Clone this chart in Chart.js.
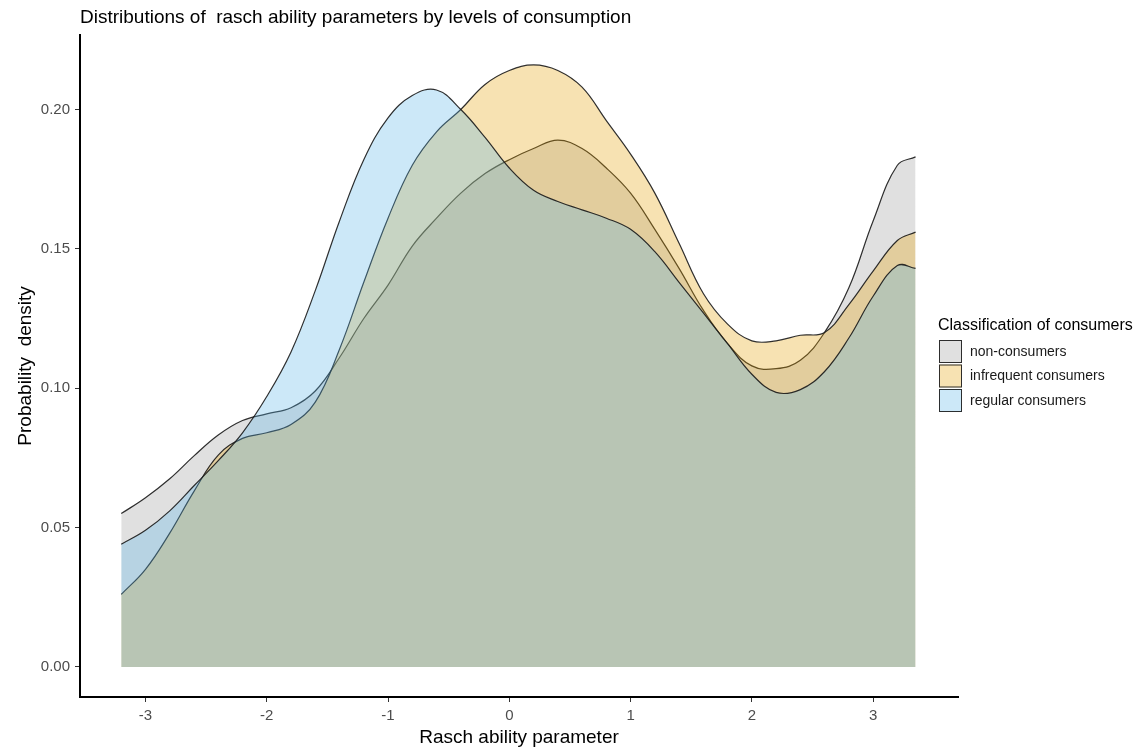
<!DOCTYPE html>
<html>
<head>
<meta charset="utf-8">
<title>Distributions of rasch ability parameters</title>
<script src="https://cdn.jsdelivr.net/npm/chart.js@4.4.1/dist/chart.umd.min.js"></script>
<style>
    html, body { margin: 0; padding: 0; background: #fff; }
    #densityChart { display: block; }
</style>
</head>
<body>
<canvas id="densityChart" width="1138" height="750"></canvas>
<script>
var abilityGrid = [-3.2, -3.0, -2.8, -2.6, -2.4, -2.2, -2.0, -1.8, -1.6, -1.4, -1.2, -1.0, -0.8, -0.6, -0.4, -0.2,
    0.0, 0.2, 0.4, 0.6, 0.8, 1.0, 1.2, 1.4, 1.6, 1.8, 2.0, 2.2, 2.4, 2.6, 2.8, 3.0, 3.2, 3.35];

var nonConsumers = [0.055, 0.0607, 0.0675, 0.0757, 0.0832, 0.0884, 0.0908, 0.093, 0.099, 0.111, 0.125, 0.137, 0.151, 0.161, 0.170, 0.177,
    0.182, 0.186, 0.189, 0.186, 0.179, 0.170, 0.157, 0.143, 0.128, 0.116, 0.108, 0.107, 0.110, 0.120, 0.136, 0.160, 0.180, 0.183];

var infrequentConsumers = [0.026, 0.035, 0.048, 0.063, 0.076, 0.082, 0.084, 0.087, 0.095, 0.114, 0.138, 0.161, 0.180, 0.192, 0.200, 0.209,
    0.214, 0.216, 0.214, 0.208, 0.196, 0.184, 0.170, 0.152, 0.134, 0.123, 0.117, 0.117, 0.119, 0.120, 0.130, 0.142, 0.153, 0.156];

var regularConsumers = [0.044, 0.049, 0.056, 0.065, 0.074, 0.084, 0.097, 0.113, 0.135, 0.160, 0.182, 0.197, 0.205, 0.207, 0.200, 0.190,
    0.179, 0.171, 0.167, 0.164, 0.161, 0.157, 0.149, 0.138, 0.127, 0.116, 0.105, 0.0985, 0.0995, 0.106, 0.118, 0.133, 0.144, 0.143];

var groupNames = ['non-consumers', 'infrequent consumers', 'regular consumers'];
var groupColors = ['rgba(153, 153, 153, 0.3)', 'rgba(230, 159, 0, 0.3)', 'rgba(86, 180, 233, 0.3)'];

var xTicks = [-3, -2, -1, 0, 1, 2, 3];
var yTicks = [0, 0.05, 0.10, 0.15, 0.20];

var fontFamily = '"Liberation Sans", Arial, sans-serif';

function toPoints(values) {
    return abilityGrid.map(function(x, i) {
        return { x: x, y: values[i] };
    });
}

var seriesValues = [nonConsumers, infrequentConsumers, regularConsumers];
var datasets = seriesValues.map(function(values, i) {
    return {
        label: groupNames[i],
        data: toPoints(values),
        backgroundColor: groupColors[i],
        borderColor: 'rgba(25, 25, 25, 0.9)',
        borderWidth: 1.2,
        fill: 'origin',
        pointRadius: 0,
        tension: 0.4,
        order: 3 - i   // first group painted first, like ggplot
    };
});

// ggplot-like legend on the right
var sideLegend = {
    id: 'sideLegend',
    afterDraw: function(chart) {
        var ctx = chart.ctx;
        ctx.save();
        ctx.fillStyle = '#000';
        ctx.font = '16px ' + fontFamily;
        ctx.textBaseline = 'middle';
        ctx.textAlign = 'left';
        ctx.fillText('Classification of consumers', 938, 326);

        ctx.font = '14px ' + fontFamily;
        for (var i = 0; i < groupNames.length; i++) {
            var top = 340 + i * 24.5;
            ctx.fillStyle = '#fff';
            ctx.fillRect(939, top, 23, 23);
            ctx.fillStyle = groupColors[i];
            ctx.fillRect(939, top, 23, 23);
            ctx.strokeStyle = 'rgba(25, 25, 25, 0.9)';
            ctx.lineWidth = 1;
            ctx.strokeRect(939.5, top + 0.5, 22, 22);
            ctx.fillStyle = '#1a1a1a';
            ctx.fillText(groupNames[i], 970, top + 12);
        }
        ctx.restore();
    }
};

var ctx = document.getElementById('densityChart').getContext('2d');
var densityChart = new Chart(ctx, {
    type: 'line',
    data: { datasets: datasets },
    options: {
        responsive: false,
        animation: false,
        devicePixelRatio: 1,
        layout: { padding: { left: 12, right: 180, top: 0, bottom: 0 } },
        plugins: {
            legend: { display: false },
            tooltip: { enabled: false },
            title: {
                display: true,
                fullSize: false,
                text: 'Distributions of  rasch ability parameters by levels of consumption',
                align: 'start',
                color: '#000',
                font: { family: fontFamily, size: 19, weight: 'normal' },
                padding: { top: 6, bottom: 6 }
            }
        },
        scales: {
            x: {
                type: 'linear',
                min: -3.54,
                max: 3.70,
                afterBuildTicks: function(scale) {
                    scale.ticks = xTicks.map(function(v) { return { value: v }; });
                },
                afterFit: function(scale) { scale.height = 53; },
                grid: { display: true, drawOnChartArea: false, drawTicks: true, tickLength: 5, color: '#333' },
                border: { display: true, color: '#000', width: 2 },
                ticks: {
                    color: '#4d4d4d',
                    padding: 5,
                    font: { family: fontFamily, size: 15 },
                    callback: function(v) { return String(v); }
                },
                title: {
                    display: true,
                    text: 'Rasch ability parameter',
                    color: '#000',
                    font: { family: fontFamily, size: 19 },
                    padding: { top: 0, bottom: 1 }
                }
            },
            y: {
                type: 'linear',
                min: -0.0108,
                max: 0.2268,
                afterBuildTicks: function(scale) {
                    scale.ticks = yTicks.map(function(v) { return { value: v }; });
                },
                afterFit: function(scale) { scale.width = 68; },
                grid: { display: true, drawOnChartArea: false, drawTicks: true, tickLength: 5, color: '#333' },
                border: { display: true, color: '#000', width: 2 },
                ticks: {
                    color: '#4d4d4d',
                    padding: 5,
                    font: { family: fontFamily, size: 15 },
                    callback: function(v) { return Number(v).toFixed(2); }
                },
                title: {
                    display: true,
                    text: 'Probability  density',
                    color: '#000',
                    font: { family: fontFamily, size: 19 },
                    padding: { top: 2, bottom: 0 }
                }
            }
        }
    },
    plugins: [sideLegend]
});
</script>
</body>
</html>
